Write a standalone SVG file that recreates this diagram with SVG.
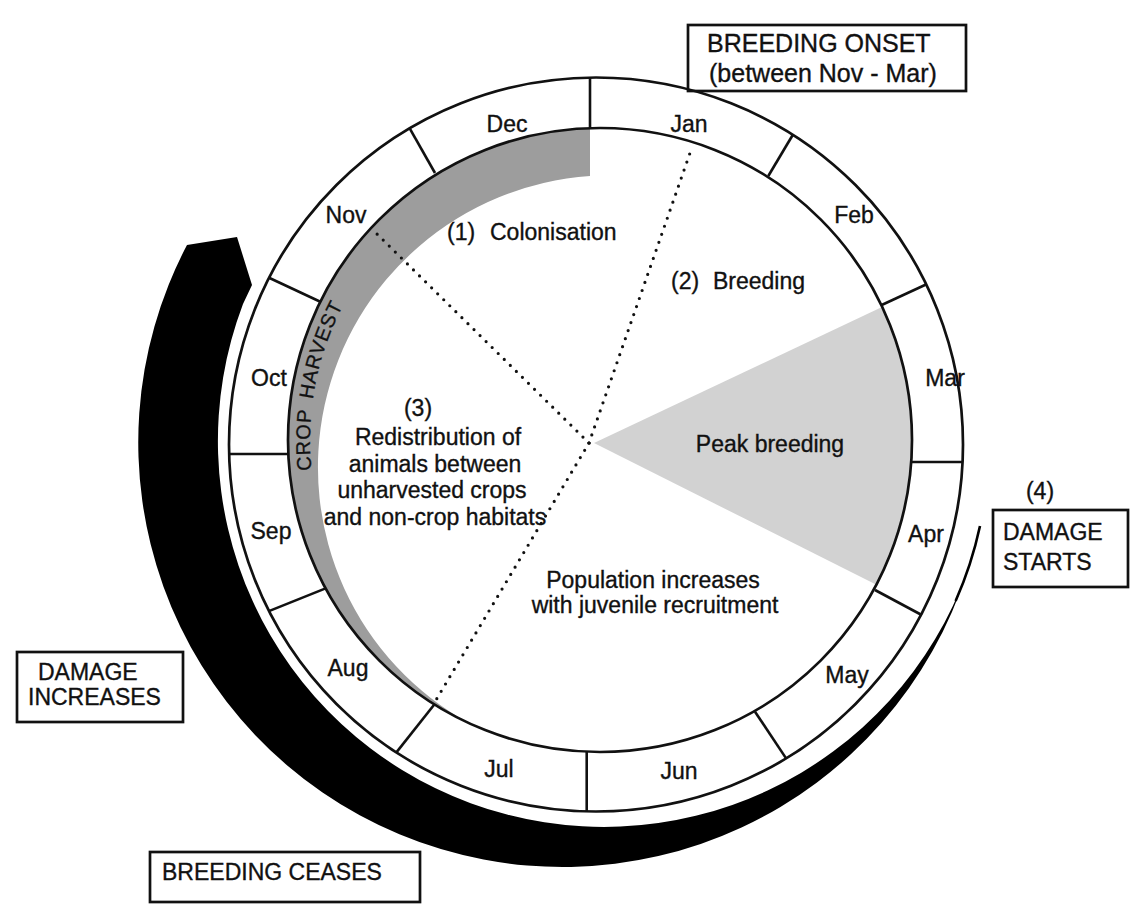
<svg xmlns="http://www.w3.org/2000/svg" width="1130" height="910" viewBox="0 0 1130 910">
<style>
.ln{fill:none;stroke:#111;stroke-width:2.7}
.dv{stroke:#111;stroke-width:2.6}
.box{fill:none;stroke:#111;stroke-width:2.7}
.t{font-family:"Liberation Sans",Arial,sans-serif;font-size:23px;fill:#111;stroke:#111;stroke-width:0.35}
.m{font-family:"Liberation Sans",Arial,sans-serif;font-size:23px;fill:#111;stroke:#111;stroke-width:0.35;text-anchor:middle}
.dot{fill:none;stroke:#111;stroke-width:3.2;stroke-linecap:round;stroke-dasharray:0 8.5}
</style>
<defs>
<path id="harvestArc" d="M311.6,470.3 A290,290 0 0 1 362.5,273.6"/>
</defs>
<rect width="1130" height="910" fill="#fff"/>

<g id="shading">
<path id="crop-band" d="M590,128.2 A312,312 0 0 0 470,723.6 A292,292 0 0 1 590,176 Z" fill="#9d9d9d"/>
<path id="peak-wedge" d="M594,443 L882,307 A312,312 0 0 1 876.4,584.8 Z" fill="#d2d2d2"/>
</g>

<g id="connectors">
<path id="damage-arrow" d="M967.5,570.5 A386,386 0 1 1 243,304 L252,285 L237,237 L187,245 A424.5,424.5 0 1 0 967.5,570.5 Z" fill="#000"/>
<path id="damage-tail" d="M980,526 A386,386 0 0 1 955.6,601" fill="none" stroke="#000" stroke-width="2.6"/>
<path class="dot" d="M589,443 L690,153"/>
<path class="dot" d="M589,443 L375,232"/>
<path class="dot" d="M589,443 L436,700"/>
</g>

<g id="month-ring">
<circle class="ln" cx="596" cy="444.5" r="367"/>
<circle class="ln" cx="600" cy="440" r="312"/>
<line class="dv" x1="590" y1="77.5" x2="590" y2="128.2"/>
<line class="dv" x1="409.7" y1="128.3" x2="435" y2="173"/>
<line class="dv" x1="269" y1="277.8" x2="320.3" y2="301.7"/>
<line class="dv" x1="229.1" y1="454" x2="288.3" y2="454"/>
<line class="dv" x1="268.9" y1="611.1" x2="325.6" y2="588.4"/>
<line class="dv" x1="396.4" y1="752.4" x2="434.3" y2="704.5"/>
<line class="dv" x1="586.7" y1="751.7" x2="586.7" y2="811.4"/>
<line class="dv" x1="755" y1="711.7" x2="786.1" y2="758.4"/>
<line class="dv" x1="875" y1="590" x2="921.7" y2="615"/>
<line class="dv" x1="911.2" y1="462" x2="962.6" y2="462"/>
<line class="dv" x1="881.7" y1="305" x2="926" y2="284.5"/>
<line class="dv" x1="768.3" y1="176" x2="792.7" y2="135"/>
</g>

<g id="months">
<text class="m" x="507" y="132">Dec</text>
<text class="m" x="689" y="132">Jan</text>
<text class="m" x="854" y="223">Feb</text>
<text class="m" x="945" y="386">Mar</text>
<text class="m" x="926" y="542">Apr</text>
<text class="m" x="847" y="683">May</text>
<text class="m" x="679" y="779">Jun</text>
<text class="m" x="499" y="777">Jul</text>
<text class="m" x="348" y="676">Aug</text>
<text class="m" x="271" y="539">Sep</text>
<text class="m" x="269" y="386">Oct</text>
<text class="m" x="346" y="223">Nov</text>
</g>

<g id="crop-harvest">
<text class="t" style="font-size:20px;letter-spacing:0.8px;stroke-width:0.3"><textPath href="#harvestArc">CROP<tspan dx="10">HARVEST</tspan></textPath></text>
</g>

<g id="phase-1"><text class="t" x="447" y="240">(1)<tspan x="490">Colonisation</tspan></text></g>
<g id="phase-2"><text class="t" x="671" y="289">(2)<tspan x="713">Breeding</tspan></text></g>
<g id="phase-3">
<text class="m" x="418" y="416">(3)</text>
<text class="m" x="438" y="445">Redistribution of</text>
<text class="m" x="435" y="471.5">animals between</text>
<text class="m" x="432" y="498">unharvested crops</text>
<text class="m" x="435" y="524.5">and non-crop habitats</text>
</g>
<g id="peak-breeding"><text class="m" x="770" y="452">Peak breeding</text></g>
<g id="population">
<text class="m" x="653" y="588">Population increases</text>
<text class="m" x="655" y="613">with juvenile recruitment</text>
</g>

<g id="box-breeding-onset">
<rect class="box" x="688" y="25" width="278" height="66"/>
<text class="t" x="707" y="52" style="font-size:25px">BREEDING ONSET</text>
<text class="t" x="709" y="82" style="font-size:25px">(between Nov - Mar)</text>
</g>
<g id="box-damage-starts">
<text class="m" x="1040" y="499">(4)</text>
<rect class="box" x="993" y="510" width="135" height="77"/>
<text class="t" x="1003" y="540">DAMAGE</text>
<text class="t" x="1003" y="570">STARTS</text>
</g>
<g id="box-damage-increases">
<rect class="box" x="17" y="652" width="166" height="70"/>
<text class="t" x="38" y="680">DAMAGE</text>
<text class="t" x="28" y="705">INCREASES</text>
</g>
<g id="box-breeding-ceases">
<rect class="box" x="150" y="852" width="270" height="50"/>
<text class="t" x="162" y="880">BREEDING CEASES</text>
</g>
</svg>
